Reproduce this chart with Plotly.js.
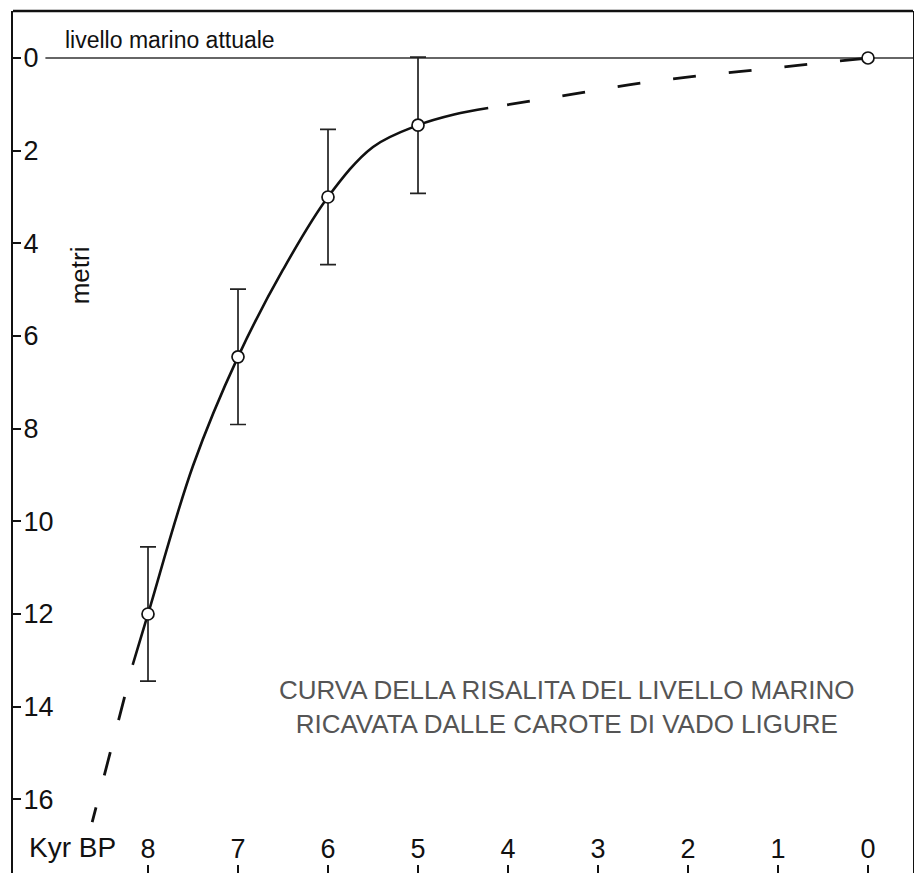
<!DOCTYPE html>
<html>
<head>
<meta charset="utf-8">
<script src="https://cdn.plot.ly/plotly-3.0.1.min.js"></script>
<style>
  html, body { margin: 0; padding: 0; background: #fff; overflow: hidden; }
  #chart { width: 914px; height: 873px; }
</style>
</head>
<body>
<div id="chart"></div>
<script>
// ---- data (ages in kyr BP, depth in metres relative to present sea level) ----
const sampleAges   = [8, 7, 6, 5, 0];
const sampleDepths = [-12, -6.45, -3.0, -1.45, 0];
const sampleErrors = [1.45, 1.46, 1.46, 1.47, 0];

// solid fitted curve
const curveAges   = [8.17, 8.0, 7.5, 7.0, 6.5, 6.0, 5.5, 5.0, 4.6, 4.22];
const curveDepths = [-13.1, -12.0, -8.8, -6.45, -4.57, -3.0, -1.92, -1.45, -1.22, -1.08];

// dashed extrapolations
const lateAges    = [4.01, 3.28, 2.66, 2.03, 1.41, 0.78, 0];
const lateDepths  = [-1.01, -0.78, -0.58, -0.42, -0.29, -0.16, 0];
const earlyAges   = [8.26, 8.62];
const earlyDepths = [-13.79, -16.49];

// present sea level reference line
const seaLevelAges   = [9.14, -0.5];
const seaLevelDepths = [0, 0];

// axis ticks
const xTickVals  = [8, 7, 6, 5, 4, 3, 2, 1, 0];
const xTickText  = ['8', '7', '6', '5', '4', '3', '2', '1', '0'];
const yTickVals  = [0, -2, -4, -6, -8, -10, -12, -14, -16];
const yTickText  = ['0', '2', '4', '6', '8', '10', '12', '14', '16'];

// ---- traces ----
const FONT = 'Arial, "Liberation Sans", Helvetica, sans-serif';
const ink = '#111';

const errIdx = sampleErrors.map((e, i) => i).filter(i => sampleErrors[i] > 0);

const traces = [
  {
    x: seaLevelAges, y: seaLevelDepths, mode: 'lines',
    line: { color: '#333', width: 1.6 }, hoverinfo: 'skip'
  },
  {
    x: curveAges, y: curveDepths, mode: 'lines',
    line: { color: ink, width: 2.6, shape: 'spline', smoothing: 1.0 }
  },
  {
    x: lateAges, y: lateDepths, mode: 'lines',
    line: { color: ink, width: 2.8, shape: 'spline', smoothing: 0.8, dash: '23px,33px' }
  },
  {
    x: earlyAges, y: earlyDepths, mode: 'lines',
    line: { color: ink, width: 2.8, dash: '24px,33px' }
  },
  {
    x: errIdx.map(i => sampleAges[i]), y: errIdx.map(i => sampleDepths[i]),
    mode: 'markers', marker: { size: 1, color: 'rgba(0,0,0,0)' },
    error_y: { type: 'data', array: errIdx.map(i => sampleErrors[i]), visible: true,
               color: '#222', thickness: 1.7, width: 8 }
  },
  {
    x: sampleAges, y: sampleDepths, mode: 'markers',
    marker: { symbol: 'circle', size: 12, color: '#fff', line: { color: ink, width: 1.7 } }
  }
];

const layout = {
  width: 914, height: 873,
  margin: { l: 13, r: 1, t: 11, b: 0, pad: 0 },
  paper_bgcolor: '#fff', plot_bgcolor: '#fff',
  showlegend: false,
  font: { family: FONT, color: ink },
  xaxis: {
    range: [9.5, -0.5], showgrid: false, zeroline: false, showline: false,
    tickmode: 'array', tickvals: xTickVals, ticktext: xTickText,
    ticks: 'inside', ticklen: 8, tickwidth: 1.7, tickcolor: ink,
    ticklabelposition: 'inside', ticklabelstandoff: 4,
    tickfont: { family: FONT, size: 27, color: ink }
  },
  yaxis: {
    range: [-17.59, 1.014], showgrid: false, zeroline: false,
    showline: true, linewidth: 2.4, linecolor: ink, mirror: true,
    tickmode: 'array', tickvals: yTickVals, ticktext: yTickText,
    ticks: 'inside', ticklen: 8, tickwidth: 1.8, tickcolor: ink,
    ticklabelposition: 'inside', ticklabelstandoff: 5,
    tickfont: { family: FONT, size: 27, color: ink }
  },
  shapes: [
    { type: 'line', xref: 'paper', yref: 'paper', x0: 0, x1: 1, y0: 1, y1: 1,
      line: { color: ink, width: 2.4 } }
  ],
  annotations: [
    { text: 'livello marino attuale', xref: 'x', yref: 'y', x: 8.95, y: 0.39,
      xanchor: 'left', yanchor: 'middle', showarrow: false,
      font: { family: FONT, size: 23, color: ink } },
    { text: 'metri', xref: 'x', yref: 'y', x: 8.76, y: -4.7, textangle: -90,
      xanchor: 'center', yanchor: 'middle', showarrow: false,
      font: { family: FONT, size: 26, color: ink } },
    { text: 'Kyr BP', xref: 'x', yref: 'y', x: 9.34, y: -17.05,
      xanchor: 'left', yanchor: 'middle', showarrow: false,
      font: { family: FONT, size: 28, color: ink } },
    { text: 'CURVA DELLA RISALITA DEL LIVELLO MARINO<br>RICAVATA DALLE CAROTE DI VADO LIGURE',
      xref: 'x', yref: 'y', x: 3.344, y: -14.0, align: 'center',
      xanchor: 'center', yanchor: 'middle', showarrow: false,
      font: { family: FONT, size: 26, color: '#555' } }
  ]
};

Plotly.newPlot('chart', traces, layout, { staticPlot: true, displayModeBar: false });
</script>
</body>
</html>
